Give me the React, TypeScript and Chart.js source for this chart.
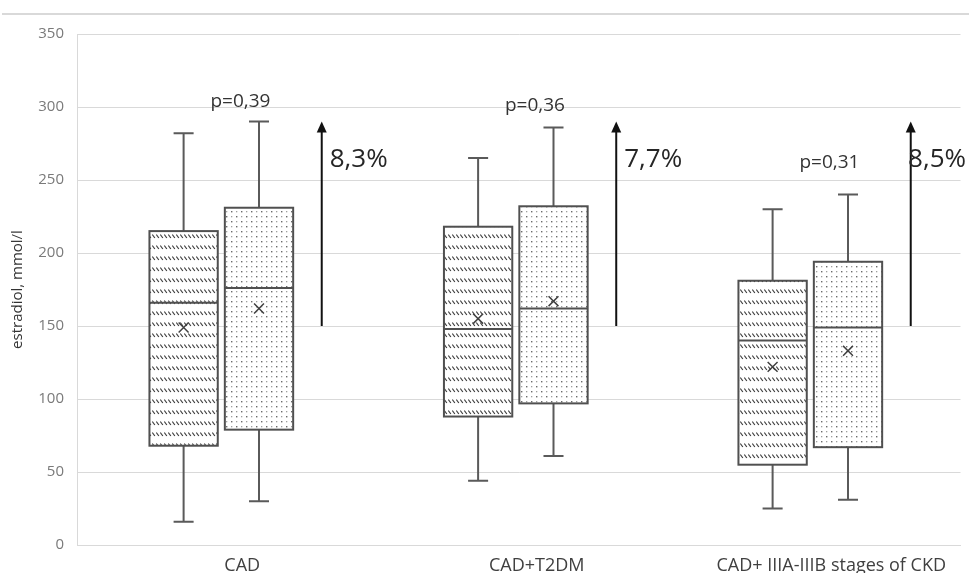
import React, { useEffect, useRef } from "react";
import { Chart, registerables } from "chart.js";

Chart.register(...registerables);

// ---------- data ----------
const categories = ["CAD", "CAD+T2DM", "CAD+ IIIA-IIIB stages of CKD"];
const yTickValues = [0, 50, 100, 150, 200, 250, 300, 350];

// series A (hatched boxes)
const aMin = [16, 44, 25];
const aQ1 = [68, 88, 55];
const aMedian = [166, 148, 140];
const aQ3 = [215, 218, 181];
const aMax = [282, 265, 230];
const aMean = [149, 155, 122];

// series B (dotted boxes)
const bMin = [30, 61, 31];
const bQ1 = [79, 97, 67];
const bMedian = [176, 162, 149];
const bQ3 = [231, 232, 194];
const bMax = [290, 286, 240];
const bMean = [162, 167, 133];

// annotations
const pLabels = ["p=0,39", "p=0,36", "p=0,31"];
const pLabelLevel = [304, 301, 262];
const changeLabels = ["8,3%", "7,7%", "8,5%"];
const arrowFrom = [150, 150, 150];
const arrowTo = [290, 290, 290];
const changeLabelLevel = [264, 264, 264];

// ---------- layout constants (category units) ----------
const OFF_A = -0.138;
const OFF_B = 0.118;
const OFF_ARROW = 0.331;
const OFF_P = 0.055;
const BOX_W = 0.232;
const CAP_W = 0.068;

const FONT = '"Open Sans", "DejaVu Sans", sans-serif';

function makeHatch(): CanvasPattern | string {
  const c = document.createElement("canvas");
  c.width = 4;
  c.height = 11;
  const g = c.getContext("2d");
  if (!g) return "#fff";
  g.fillStyle = "#ffffff";
  g.fillRect(0, 0, 4, 11);
  g.strokeStyle = "#3c3c3c";
  g.lineWidth = 1.2;
  g.beginPath();
  g.moveTo(0.3, 3.5);
  g.lineTo(2.8, 7);
  g.stroke();
  const p = g.createPattern(c, "repeat");
  return p || "#fff";
}

function makeDots(): CanvasPattern | string {
  const c = document.createElement("canvas");
  c.width = 10;
  c.height = 10;
  const g = c.getContext("2d");
  if (!g) return "#fff";
  g.fillStyle = "#ffffff";
  g.fillRect(0, 0, 10, 10);
  g.fillStyle = "#6a6a6a";
  g.fillRect(1, 1, 1.4, 1.4);
  g.fillRect(6, 6, 1.4, 1.4);
  g.fillStyle = "#a0a0a0";
  g.fillRect(6, 1, 1.3, 1.3);
  g.fillRect(1, 6, 1.3, 1.3);
  const p = g.createPattern(c, "repeat");
  return p || "#fff";
}

export default function App() {
  const ref = useRef<HTMLCanvasElement | null>(null);

  useEffect(() => {
    document.body.style.margin = "0";
    const canvas = ref.current;
    if (!canvas) return;
    const hatch = makeHatch();
    const dots = makeDots();

    const boxPlugin = {
      id: "boxes",
      beforeDraw(chart: any) {
        const ctx = chart.ctx;
        ctx.save();
        ctx.strokeStyle = "#d9d9d9";
        ctx.lineWidth = 2;
        ctx.beginPath();
        ctx.moveTo(2, 14);
        ctx.lineTo(chart.width, 14);
        ctx.stroke();
        ctx.restore();
      },
      beforeDatasetsDraw(chart: any) {
        const ctx = chart.ctx;
        const xs = chart.scales.x;
        const ys = chart.scales.y;
        const halfW = (xs.getPixelForValue(BOX_W) - xs.getPixelForValue(0)) / 2;
        const capHalf = (xs.getPixelForValue(CAP_W) - xs.getPixelForValue(0)) / 2;
        const series = [
          { off: OFF_A, mn: aMin, q1: aQ1, md: aMedian, q3: aQ3, mx: aMax, fill: hatch },
          { off: OFF_B, mn: bMin, q1: bQ1, md: bMedian, q3: bQ3, mx: bMax, fill: dots },
        ];
        ctx.save();
        series.forEach((s) => {
          categories.forEach((_, i) => {
            const xc = xs.getPixelForValue(i + s.off);
            const yMin = ys.getPixelForValue(s.mn[i]);
            const yQ1 = ys.getPixelForValue(s.q1[i]);
            const yMd = ys.getPixelForValue(s.md[i]);
            const yQ3 = ys.getPixelForValue(s.q3[i]);
            const yMax = ys.getPixelForValue(s.mx[i]);
            ctx.strokeStyle = "#5a5a5a";
            ctx.lineWidth = 2;
            ctx.beginPath();
            ctx.moveTo(xc, yQ3);
            ctx.lineTo(xc, yMax);
            ctx.moveTo(xc - capHalf, yMax);
            ctx.lineTo(xc + capHalf, yMax);
            ctx.moveTo(xc, yQ1);
            ctx.lineTo(xc, yMin);
            ctx.moveTo(xc - capHalf, yMin);
            ctx.lineTo(xc + capHalf, yMin);
            ctx.stroke();
            ctx.fillStyle = s.fill;
            ctx.fillRect(xc - halfW, yQ3, halfW * 2, yQ1 - yQ3);
            ctx.strokeStyle = "#505050";
            ctx.lineWidth = 2;
            ctx.strokeRect(xc - halfW, yQ3, halfW * 2, yQ1 - yQ3);
            ctx.beginPath();
            ctx.moveTo(xc - halfW, yMd);
            ctx.lineTo(xc + halfW, yMd);
            ctx.stroke();
          });
        });
        ctx.restore();
      },
      afterDatasetsDraw(chart: any) {
        const ctx = chart.ctx;
        const xs = chart.scales.x;
        const ys = chart.scales.y;
        ctx.save();
        categories.forEach((_, i) => {
          ctx.fillStyle = "#333333";
          ctx.font = `19px ${FONT}`;
          ctx.textAlign = "center";
          ctx.textBaseline = "middle";
          ctx.fillText(pLabels[i], xs.getPixelForValue(i + OFF_P), ys.getPixelForValue(pLabelLevel[i]));
          const ax = xs.getPixelForValue(i + OFF_ARROW);
          const y0 = ys.getPixelForValue(arrowFrom[i]);
          const y1 = ys.getPixelForValue(arrowTo[i]);
          ctx.strokeStyle = "#111111";
          ctx.fillStyle = "#111111";
          ctx.lineWidth = 2;
          ctx.beginPath();
          ctx.moveTo(ax, y0);
          ctx.lineTo(ax, y1 + 8);
          ctx.stroke();
          ctx.beginPath();
          ctx.moveTo(ax, y1);
          ctx.lineTo(ax - 5, y1 + 11);
          ctx.lineTo(ax + 5, y1 + 11);
          ctx.closePath();
          ctx.fill();
          ctx.font = `26px ${FONT}`;
          ctx.fillStyle = "#262626";
          ctx.textAlign = "left";
          const tw = ctx.measureText(changeLabels[i]).width;
          const tx = Math.min(ax + 8, chart.width - tw - 3);
          ctx.fillText(changeLabels[i], tx, ys.getPixelForValue(changeLabelLevel[i]));
        });
        ctx.restore();
      },
    };

    const meanStyle = {
      type: "scatter" as const,
      pointStyle: "crossRot" as const,
      pointRadius: 7,
      pointBorderWidth: 1.5,
      borderColor: "#404040",
      backgroundColor: "#404040",
      showLine: false,
    };

    const chart = new Chart(canvas, {
      type: "scatter",
      data: {
        datasets: [
          { ...meanStyle, label: "A mean", data: categories.map((_, i) => ({ x: i + OFF_A, y: aMean[i] })) },
          { ...meanStyle, label: "B mean", data: categories.map((_, i) => ({ x: i + OFF_B, y: bMean[i] })) },
        ],
      },
      options: {
        animation: false,
        responsive: true,
        maintainAspectRatio: false,
        layout: { padding: { top: 34, right: 3, left: 0, bottom: 0 } },
        plugins: { legend: { display: false }, tooltip: { enabled: false } },
        scales: {
          x: {
            type: "linear",
            min: -0.5,
            max: 2.5,
            afterBuildTicks: (s: any) => {
              s.ticks = categories.map((_, i) => ({ value: i }));
            },
            afterFit: (s: any) => {
              s.height = 28;
            },
            ticks: {
              autoSkip: false,
              maxRotation: 0,
              padding: 10,
              labelOffset: 18,
              color: "#404040",
              font: { family: FONT, size: 18 },
              callback: (v: any) => categories[v as number] ?? "",
            },
            grid: { display: false, drawTicks: false },
            border: { display: true, color: "#d9d9d9", width: 1 },
          },
          y: {
            min: 0,
            max: 350,
            afterBuildTicks: (s: any) => {
              s.ticks = yTickValues.map((v) => ({ value: v }));
            },
            afterFit: (s: any) => {
              s.width = 77;
            },
            ticks: {
              padding: 13,
              color: "#7a7a7a",
              font: { family: FONT, size: 15 },
            },
            grid: { color: "#d9d9d9", drawTicks: false, lineWidth: 1 },
            border: { display: true, color: "#d9d9d9", width: 1 },
            title: {
              display: true,
              text: "estradiol, mmol/l",
              color: "#333333",
              font: { family: FONT, size: 15 },
              padding: { top: 9, bottom: 0 },
            },
          },
        },
      },
      plugins: [boxPlugin],
    });

    return () => chart.destroy();
  }, []);

  return (
    <div style={{ width: 969, height: 573, position: "relative" }}>
      <canvas ref={ref} />
    </div>
  );
}
